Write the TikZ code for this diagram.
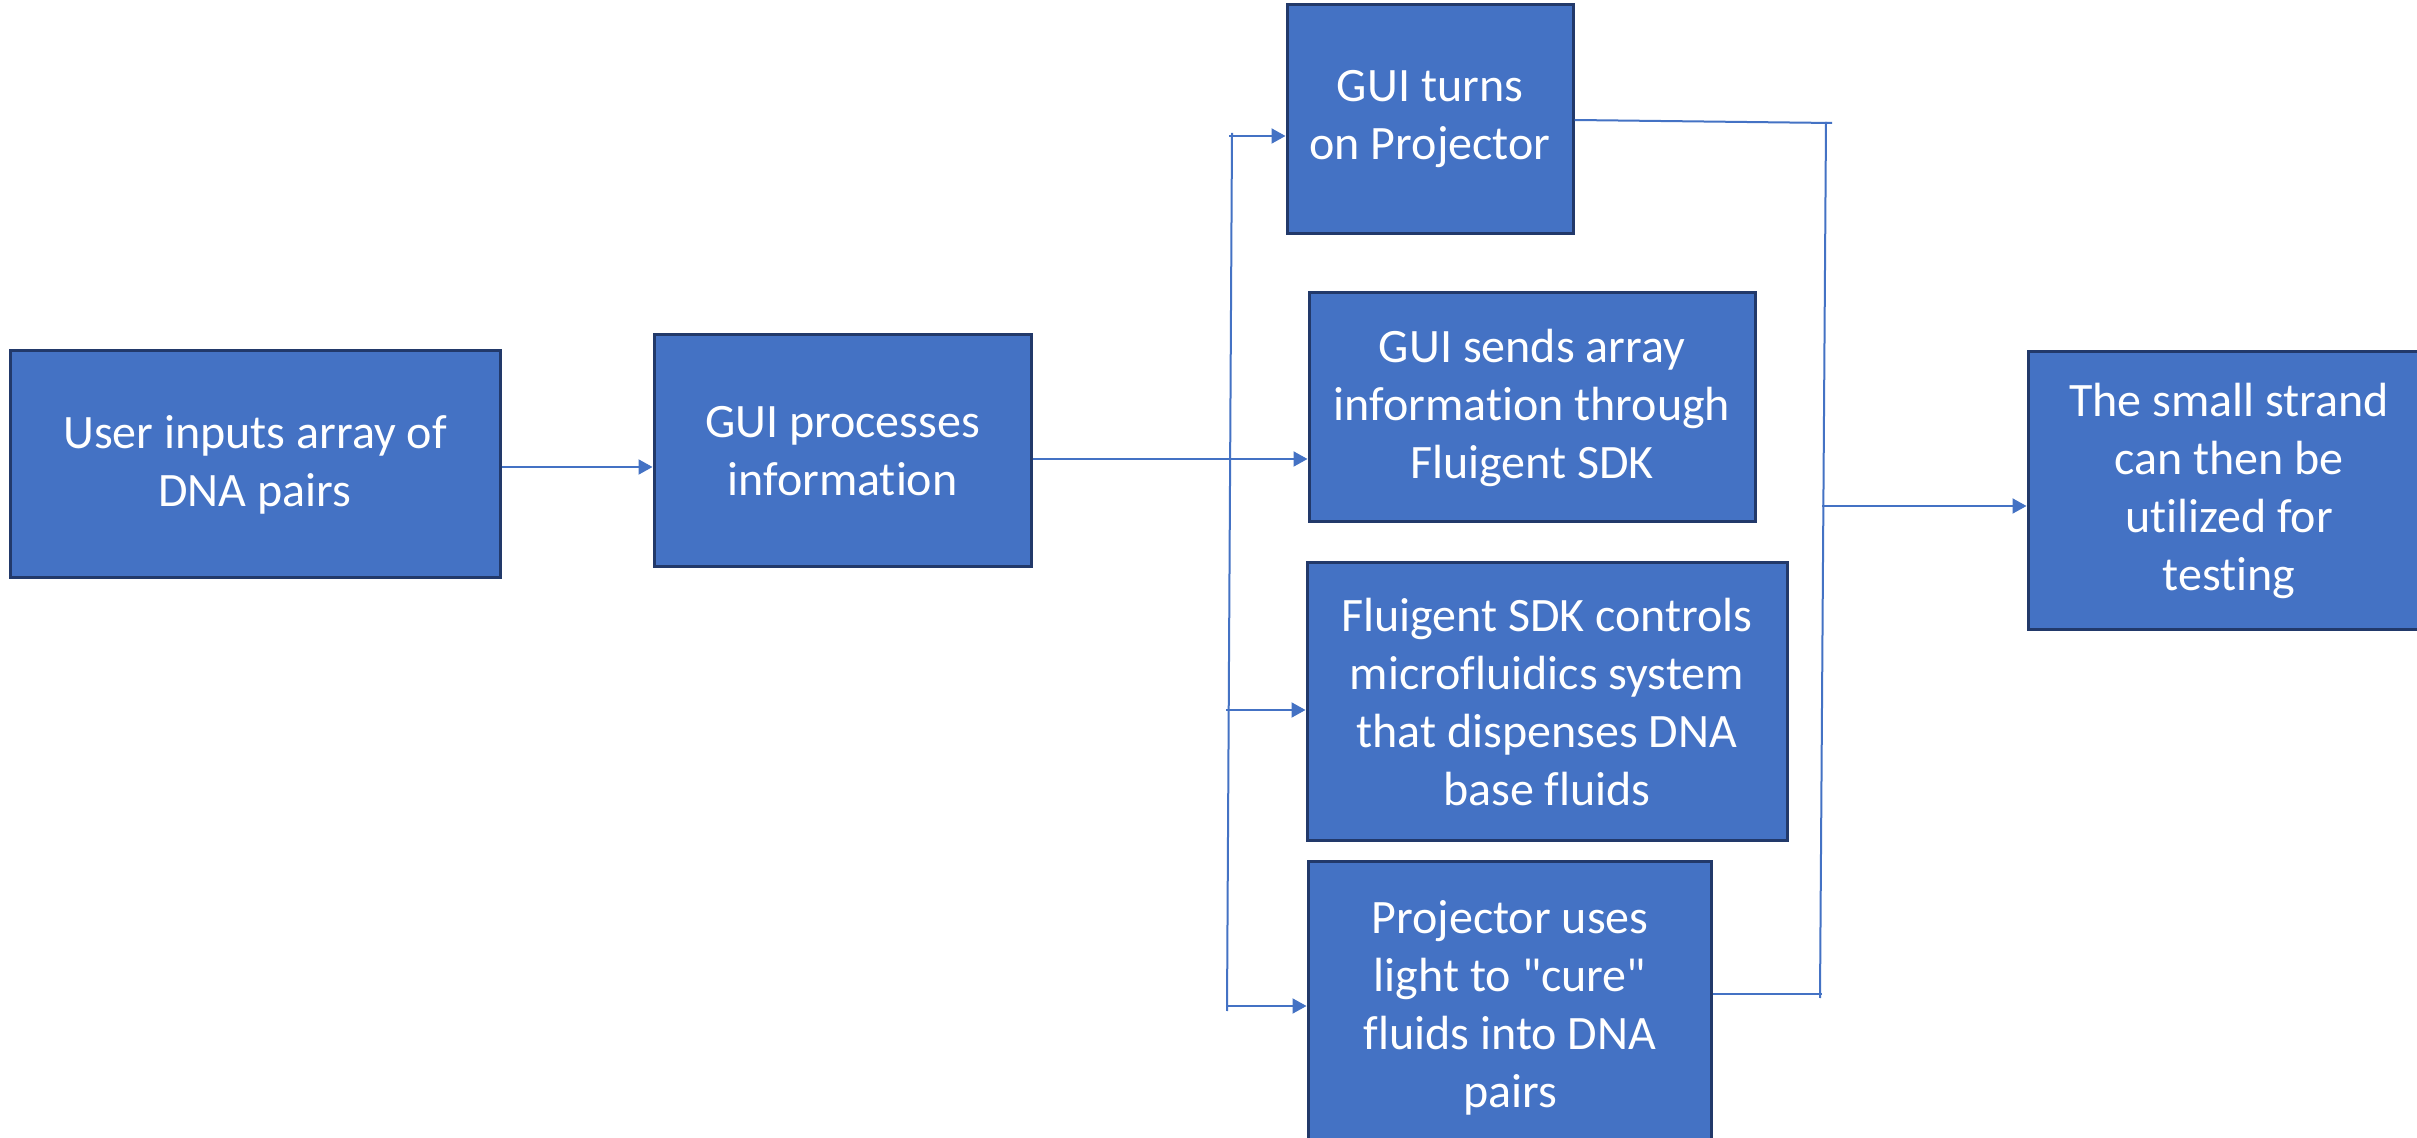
\documentclass[tikz,border=0pt]{standalone}
\usepackage{fontspec}
\newfontfamily\boxfont{Carlito}[Ligatures=NoCommon]
\usetikzlibrary{arrows.meta}
\definecolor{boxfill}{HTML}{4472C4}
\definecolor{boxline}{HTML}{22396A}
\definecolor{conn}{HTML}{4472C4}
\tikzset{
  boxtext/.style={text=white, align=center, inner sep=0pt, font=\boxfont\fontsize{24}{29}\selectfont},
  stepbox/.style={boxtext, draw=boxline, line width=1.5pt, fill=boxfill},
  conline/.style={draw=conn, line width=1pt},
  arr/.style={conline, -{Triangle[length=7pt,width=7.5pt]}}
}
\newcommand{\mkbox}[6]{% name, left, top, right, bottom, text
  \node[stepbox, minimum width={(#4-#2)*0.5pt}, minimum height={(#5-#3)*0.5pt}]
    (#1) at ({(#2+#4)/2},{(#3+#5)/2}) {#6};}
\begin{document}
\begin{tikzpicture}[x=0.5pt,y=-0.5pt]
\useasboundingbox (0,0) rectangle (2417,1138);
\clip (0,0) rectangle (2417,1138);
\fill[white] (0,0) rectangle (2417,1138);
\mkbox{b1}{10}{351}{500}{578}{User inputs array of\\DNA pairs}
\mkbox{b2}{654}{335}{1031}{567}{GUI processes\\information}
\mkbox{b3}{1287}{5}{1573}{234}{GUI turns\\on Projector}
\mkbox{b4}{1309}{293}{1755}{522}{GUI sends array\\information through\\Fluigent SDK}
\mkbox{b5}{1307}{563}{1787}{841}{Fluigent SDK controls\\microfluidics system\\that dispenses DNA\\base fluids}
\node[stepbox, minimum width={(1711-1308)*0.5pt}, minimum height={(1160-862)*0.5pt}]
  (b6) at ({(1308+1711)/2},{(862+1160)/2}) {};
\node[boxtext] (b6t) at (1510,1008) {Projector uses\\light to "cure"\\fluids into DNA\\pairs};
\mkbox{b7}{2028}{352}{2430}{630}{The small strand\\can then be\\utilized for\\testing}
% left bus
\coordinate (lt) at (1232,133);
\coordinate (lb) at (1227,1011);
\draw[conline] (lt) -- (lb);
\draw[arr] (b1.east |- 0,467) -- (b2.west |- 0,467);
\draw[arr] (b2.east |- 0,459) -- (b4.west |- 0,459);
\draw[arr] (1229,136) coordinate (l3) -- (b3.west |- l3);
\draw[arr] (1226,710) coordinate (l5) -- (b5.west |- l5);
\draw[arr] (1226,1006) coordinate (l6) -- (b6.west |- l6);
% right bus
\coordinate (rt) at (1826,122);
\coordinate (rb) at (1820,998);
\draw[conline] (rt) -- (rb);
\draw[conline] (b3.east |- 0,120) -- (1832,123) coordinate (r3);
\draw[conline] (b6.east |- 0,994) -- (1822,994) coordinate (r6);
\draw[arr] (1822,506) coordinate (r7) -- (b7.west |- r7);
\end{tikzpicture}
\end{document}
